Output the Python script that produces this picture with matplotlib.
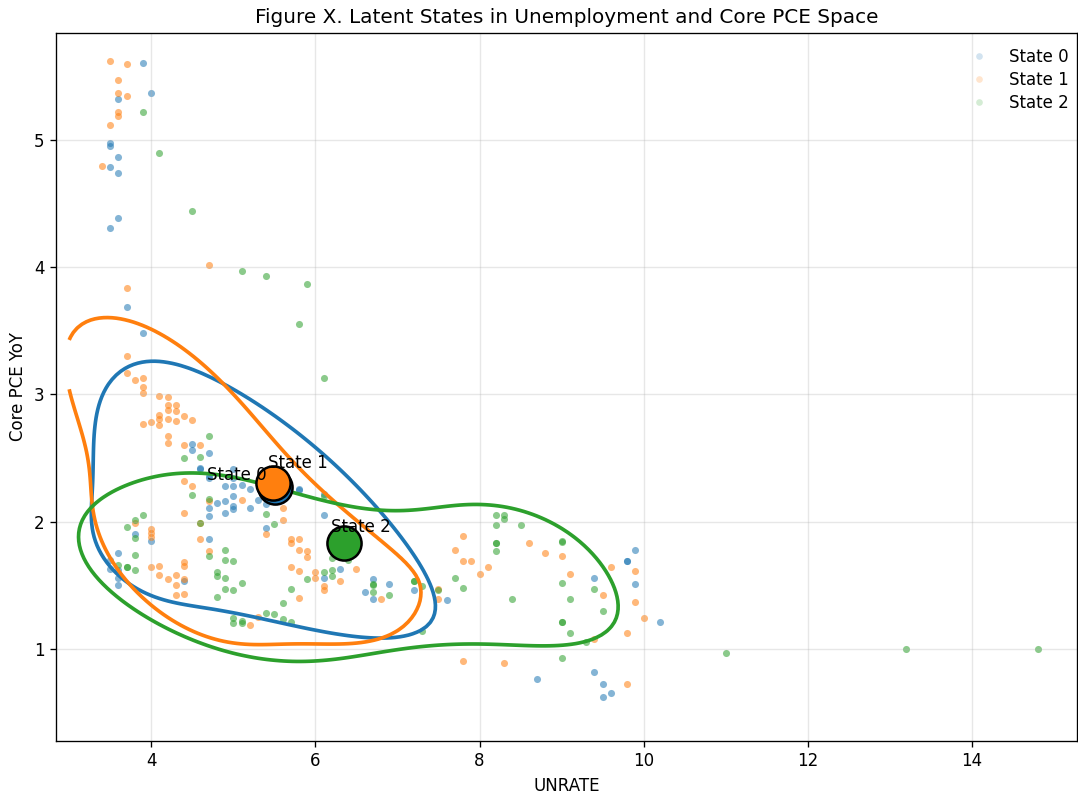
import numpy as np
import matplotlib
matplotlib.use("Agg")
import matplotlib.pyplot as plt
from matplotlib.lines import Line2D

# state 0 (blue)
x0 = [3.9, 3.6, 4.0, 3.5, 3.5, 3.6, 3.5, 3.6, 3.6, 3.5, 3.7, 3.9,
      4.5, 4.5, 4.7, 4.6, 4.7, 5.0, 5.0, 4.9, 5.0, 5.0, 5.1, 5.2, 5.2, 4.9,
      4.8, 5.0, 5.0, 4.9, 4.7, 4.7, 5.3, 5.4, 5.4, 5.8, 5.8, 6.1, 6.1, 4.7,
      3.8, 4.0, 4.7, 4.6, 4.4,
      3.6, 3.5, 3.5, 3.6, 3.6, 3.6,
      6.3, 6.1, 6.7, 6.7, 6.6, 6.9, 7.2, 7.6,
      9.4, 9.8, 9.8, 9.9, 9.9, 10.2, 8.7, 9.4, 9.5, 9.5, 9.6]
y0 = [5.61, 5.32, 5.37, 4.98, 4.95, 4.87, 4.79, 4.74, 4.39, 4.31, 3.69, 3.48,
      2.61, 2.56, 2.54, 2.41, 2.36, 2.41, 2.34, 2.28, 2.28, 2.20, 2.29, 2.26, 2.11, 2.16,
      2.15, 2.12, 2.10, 2.07, 2.11, 2.04, 2.17, 2.14, 1.95, 2.25, 2.26, 2.22, 2.05, 1.86,
      1.90, 1.85, 2.34, 2.42, 1.53,
      1.75, 1.70, 1.63, 1.62, 1.56, 1.50,
      1.63, 1.56, 1.55, 1.39, 1.45, 1.51, 1.46, 1.38,
      1.56, 1.69, 1.69, 1.78, 1.51, 1.21, 0.76, 0.82, 0.72, 0.62, 0.65]

# state 1 (orange)
x1 = [3.5, 3.7, 3.6, 3.6, 3.7, 3.6, 3.6, 3.5, 3.4, 4.7, 3.7,
      3.7, 3.7, 3.8, 3.9, 3.9, 3.9, 4.1, 4.2, 4.2, 4.3, 4.3, 4.2, 4.1, 4.1,
      4.2, 4.3, 4.4, 4.5, 3.9, 4.0, 4.1, 4.2, 4.2, 4.4, 4.6, 4.4, 4.5, 5.1,
      4.7, 5.6, 5.6, 5.4, 4.4, 4.6, 4.6, 4.7, 5.7, 5.8, 5.8, 5.9, 5.9, 5.7,
      5.7, 5.8, 5.8, 5.3, 5.2, 6.0, 6.0, 6.1, 6.1, 6.3, 6.5, 6.8, 7.5, 7.5,
      3.8, 4.0, 4.0, 4.0, 4.0, 4.1, 4.1, 4.2, 4.3, 4.3, 4.4, 4.4, 4.4, 4.3, 4.4,
      7.8, 7.7, 7.8, 7.9, 8.0, 8.1, 8.6, 8.8, 9.0, 9.1, 9.4, 9.5, 9.6, 9.9,
      9.9, 10.0, 9.8, 7.8, 8.3, 9.8]
y1 = [5.62, 5.60, 5.47, 5.37, 5.35, 5.22, 5.19, 5.12, 4.80, 4.02, 3.84,
      3.30, 3.17, 3.11, 3.13, 3.06, 3.01, 2.99, 2.98, 2.92, 2.92, 2.87, 2.88, 2.84, 2.81,
      2.81, 2.79, 2.83, 2.80, 2.77, 2.78, 2.76, 2.67, 2.62, 2.60, 2.60, 2.32, 2.28, 2.17,
      2.16, 2.11, 2.01, 1.90, 2.07, 1.99, 1.86, 1.77, 1.86, 1.86, 1.78, 1.77, 1.72, 1.83,
      1.64, 1.61, 1.40, 1.25, 1.19, 1.60, 1.56, 1.49, 1.46, 1.53, 1.63, 1.39, 1.47, 1.39,
      1.99, 1.94, 1.91, 1.88, 1.64, 1.65, 1.58, 1.55, 1.58, 1.50, 1.68, 1.65, 1.55, 1.42, 1.43,
      1.89, 1.78, 1.69, 1.69, 1.59, 1.64, 1.83, 1.75, 1.73, 1.59, 1.08, 1.42, 1.64, 1.61,
      1.37, 1.24, 1.12, 0.90, 0.89, 0.72]

# state 2 (green)
x2 = [3.9, 4.1, 4.5, 5.1, 5.4, 5.9, 5.8, 6.1,
      4.7, 4.4, 4.6, 4.5, 4.7, 5.4, 5.5, 6.1, 4.6, 4.7, 4.9, 4.9, 5.0, 4.8,
      4.8, 4.9, 5.1, 4.9, 5.0, 4.8, 5.0, 5.1, 5.0, 5.1, 5.4, 5.5, 5.6, 5.7,
      5.7, 5.6, 5.9, 6.2, 6.4, 6.1, 6.2, 6.2, 6.7, 6.7, 6.7, 6.9, 7.2, 7.2,
      7.3, 7.5, 7.3,
      3.9, 3.8, 3.8, 3.7, 3.8, 3.8, 3.6, 3.7, 3.7,
      7.7, 7.8, 8.2, 8.3, 8.3, 8.2, 8.5, 8.2, 8.2, 8.2, 8.4, 9.0, 9.0, 9.0,
      9.1, 9.0, 9.0, 9.1, 9.3, 9.4, 9.5, 9.0, 11.0, 13.2, 14.8]
y2 = [5.22, 4.90, 4.44, 3.97, 3.93, 3.87, 3.55, 3.13,
      2.67, 2.50, 2.51, 2.21, 2.18, 2.06, 1.98, 2.20, 1.99, 1.73, 1.78, 1.70, 1.69, 1.60,
      1.57, 1.56, 1.52, 1.47, 1.46, 1.41, 1.24, 1.22, 1.20, 1.20, 1.28, 1.27, 1.36, 1.47,
      1.21, 1.23, 1.55, 1.71, 1.70, 1.60, 1.62, 1.57, 1.51, 1.45, 1.50, 1.42, 1.53, 1.53,
      1.49, 1.46, 1.14,
      2.05, 2.01, 1.87, 1.96, 1.74, 1.62, 1.66, 1.64, 1.64,
      1.56, 1.48, 2.05, 2.05, 2.02, 1.97, 1.97, 1.83, 1.83, 1.77, 1.39, 1.85, 1.84, 1.52,
      1.39, 1.21, 1.21, 1.12, 1.05, 1.47, 1.30, 0.93, 0.97, 1.00, 1.00]

state_x = [x0, x1, x2]
state_y = [y0, y1, y2]
labels = ["State 0", "State 1", "State 2"]
mean_x = [5.51, 5.48, 6.35]
mean_y = [2.275, 2.30, 1.83]

colors = ["#1f77b4", "#ff7f0e", "#2ca02c"]
# probability mass inside each drawn contour
contour_mass = [0.5, 0.545, 0.6]
# label offsets in points (ha=center, baseline)
label_offsets = [(-23, 4), (15, 9), (10, 7)]


def kde_grid(x, y, gx, gy):
    # gaussian kde with scott bandwidth (same as scipy.stats.gaussian_kde)
    data = np.vstack([x, y])
    n = data.shape[1]
    cov = np.cov(data) * n ** (-1 / 3)
    inv = np.linalg.inv(cov)
    pts = np.vstack([gx.ravel(), gy.ravel()])
    diff = pts[:, :, None] - data[:, None, :]
    q = np.einsum("ipn,ij,jpn->pn", diff, inv, diff)
    dens = np.exp(-0.5 * q).sum(axis=1) / (n * 2 * np.pi * np.sqrt(np.linalg.det(cov)))
    return dens.reshape(gx.shape)


def hdr_level(z, mass):
    zs = np.sort(z.ravel())[::-1]
    cum = np.cumsum(zs)
    cum /= cum[-1]
    return zs[np.searchsorted(cum, mass)]


fig, ax = plt.subplots(figsize=(1078 / 120, 793 / 120), dpi=120)
fig.subplots_adjust(left=0.052, right=0.999, top=0.958, bottom=0.066)

gx, gy = np.meshgrid(np.linspace(3.0, 15.5, 240), np.linspace(-1, 7, 240))

for k in range(3):
    ax.scatter(state_x[k], state_y[k], s=18, color=colors[k], alpha=0.55, linewidths=0)
    z = kde_grid(state_x[k], state_y[k], gx, gy)
    ax.contour(gx, gy, z, levels=[hdr_level(z, contour_mass[k])],
               colors=colors[k], linewidths=2.2)

for k in range(3):
    ax.scatter(mean_x[k], mean_y[k], s=420, color=colors[k], edgecolor="black",
               linewidths=1.5, zorder=5)
    ax.annotate(labels[k], (mean_x[k], mean_y[k]), xytext=label_offsets[k],
                textcoords="offset points", ha="center", va="baseline",
                fontsize=10, zorder=6)

handles = [Line2D([], [], marker="o", linestyle="none", markersize=4,
                  markerfacecolor=c, markeredgewidth=0, alpha=0.2) for c in colors]
ax.legend(handles, labels, loc="upper right", bbox_to_anchor=(1.007, 1.0),
          frameon=False, labelspacing=0.3)

ax.set_xlim(2.84, 15.28)
ax.set_ylim(0.277, 5.84)
ax.grid(True, alpha=0.3)
ax.set_title("Figure X. Latent States in Unemployment and Core PCE Space", fontsize=12)
ax.set_xlabel("UNRATE")
ax.set_ylabel("Core PCE YoY")

fig.savefig("out.png", dpi=120)
